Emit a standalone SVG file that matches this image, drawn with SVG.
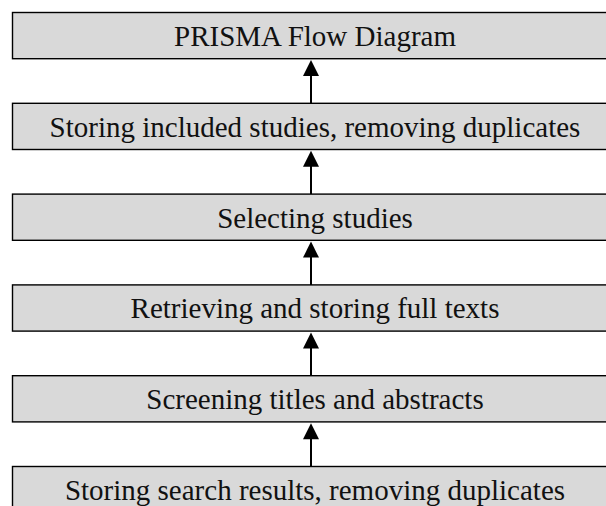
<svg xmlns="http://www.w3.org/2000/svg" width="606" height="506" viewBox="0 0 606 506">
  <defs>
    <style>
      .box { fill: #d9d9d9; stroke: #000; stroke-width: 1.4; }
      .lbl { font-family: "Liberation Serif", "Times New Roman", serif; font-size: 29px; fill: #111; text-anchor: middle; }
      .link { stroke: #000; stroke-width: 2; fill: none; }
      .head { fill: #000; }
    </style>
  </defs>
  <rect width="606" height="506" fill="#fff"/>

  <g id="n1">
    <rect class="box" x="12.5" y="12.5" width="620" height="46.2"/>
    <text class="lbl" x="315" y="46">PRISMA Flow Diagram</text>
  </g>
  <g id="n2">
    <rect class="box" x="12.5" y="103.3" width="620" height="46.2"/>
    <text class="lbl" x="315" y="136.8">Storing included studies, removing duplicates</text>
  </g>
  <g id="n3">
    <rect class="box" x="12.5" y="194.1" width="620" height="46.2"/>
    <text class="lbl" x="315" y="227.6">Selecting studies</text>
  </g>
  <g id="n4">
    <rect class="box" x="12.5" y="284.9" width="620" height="46.2"/>
    <text class="lbl" x="315" y="318.4">Retrieving and storing full texts</text>
  </g>
  <g id="n5">
    <rect class="box" x="12.5" y="375.7" width="620" height="46.2"/>
    <text class="lbl" x="315" y="409.2">Screening titles and abstracts</text>
  </g>
  <g id="n6">
    <rect class="box" x="12.5" y="466.5" width="620" height="46.2"/>
    <text class="lbl" x="315" y="500">Storing search results, removing duplicates</text>
  </g>

  <g id="connectors">
    <line class="link" x1="311" y1="103.3" x2="311" y2="75"/>
    <polygon class="head" points="311,60 303,76 319,76"/>
    <line class="link" x1="311" y1="194.1" x2="311" y2="165.8"/>
    <polygon class="head" points="311,150.8 303,166.8 319,166.8"/>
    <line class="link" x1="311" y1="284.9" x2="311" y2="256.6"/>
    <polygon class="head" points="311,241.6 303,257.6 319,257.6"/>
    <line class="link" x1="311" y1="375.7" x2="311" y2="347.4"/>
    <polygon class="head" points="311,332.4 303,348.4 319,348.4"/>
    <line class="link" x1="311" y1="466.5" x2="311" y2="438.2"/>
    <polygon class="head" points="311,423.2 303,439.2 319,439.2"/>
  </g>
</svg>
